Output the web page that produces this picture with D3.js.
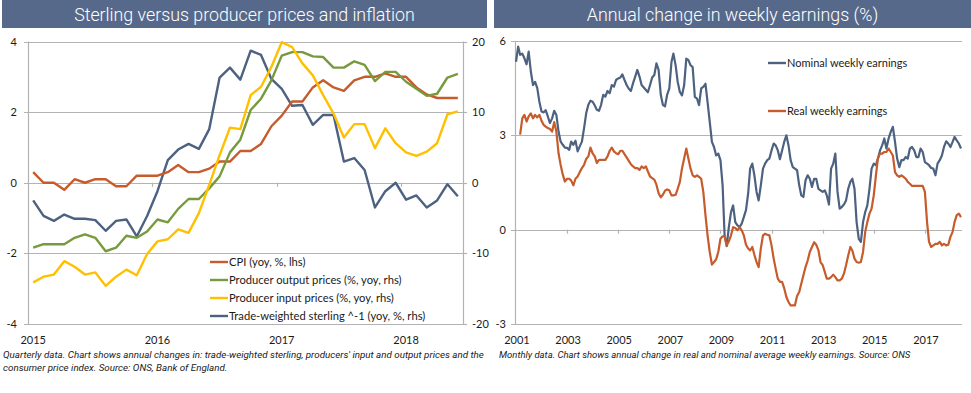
<!DOCTYPE html>
<html><head><meta charset="utf-8">
<script src="https://cdn.jsdelivr.net/npm/d3@7"></script>
<style>
html,body{margin:0;padding:0;background:#fff;}
svg{display:block;}
</style>
</head><body>
<script>
// ---------- LEFT CHART DATA (monthly, Jan 2015 – Jun 2018) ----------
const leftYearLabels = ["2015","2016","2017","2018"];
const leftTicksLhs = [-4,-2,0,2,4];
const leftTicksRhs = [-20,-10,0,10,20];
const cpi = [0.3,0,0,-0.2,0.1,0,0.1,0.1,-0.1,-0.1,0.2,0.2,
             0.2,0.3,0.5,0.3,0.3,0.4,0.6,0.6,0.9,0.9,1.1,1.6,
             1.9,2.3,2.3,2.7,2.9,2.7,2.6,2.9,3.0,3.0,3.1,3.0,
             3.0,2.7,2.5,2.4,2.4,2.4];
const ppiOutput = [-9.2,-8.7,-8.7,-8.7,-7.8,-7.3,-7.8,-9.7,-9.2,-7.5,-7.8,-6.9,
                   -5.2,-5.6,-3.7,-2.3,-2.3,-0.8,0.9,4.3,6.1,10.3,11.9,14.5,
                   18.0,18.5,18.5,17.9,17.8,16.3,16.3,17.2,16.7,14.4,15.7,15.7,
                   14.3,13.3,12.3,12.6,14.9,15.4];
const ppiInput = [-14.1,-13.3,-13.0,-11.1,-11.9,-13.0,-12.7,-14.6,-13.3,-12.3,-13.1,-10.1,
                  -8.3,-8.0,-6.6,-7.1,-4.3,-0.3,3.9,7.8,7.6,12.4,13.6,16.4,
                  19.9,19.2,16.9,15.2,12.4,9.8,6.4,8.3,8.3,4.9,7.7,5.6,
                  4.3,3.8,4.4,5.6,9.7,10.1];
const sterlingInv = [-2.5,-4.7,-5.4,-4.5,-5.1,-5.1,-5.3,-6.8,-5.4,-5.2,-7.6,-4.7,
                     -1.2,3.2,4.7,5.5,4.8,7.6,14.9,16.3,14.6,18.7,18.1,14.7,
                     13.3,10.9,11.0,8.2,9.6,9.6,3.0,3.5,1.8,-3.5,-1.2,0.0,
                     -2.4,-1.8,-3.5,-2.5,-0.2,-1.9];
const leftLegend = ["CPI (yoy, %, lhs)","Producer output prices (%, yoy, rhs)","Producer input prices (%, yoy, rhs)","Trade-weighted sterling ^-1 (yoy, %, rhs)"];

// ---------- RIGHT CHART DATA (monthly, Jan 2001 – Jun 2018) ----------
const rightYearLabels = ["2001","2003","2005","2007","2009","2011","2013","2015","2017"];
const rightTicks = [-3,0,3,6];
const nominalWeekly = [
 5.34,5.82,5.56,5.6,5.45,5.26,5.66,5.03,4.6,4.7,4.5,4.07,
 3.76,3.73,3.8,3.6,3.39,3.54,3.78,3.65,3.12,2.8,2.7,2.61,
 2.6,2.54,2.8,2.7,2.83,2.49,2.65,2.8,3.23,3.7,3.97,4.1,
 4.07,3.95,3.81,3.78,3.97,4.29,4.23,4.41,4.34,4.6,4.55,4.76,
 4.81,4.84,4.94,4.76,4.6,4.48,4.41,4.66,4.87,5.08,4.87,4.6,
 4.52,4.44,4.37,4.6,4.84,4.92,5.29,5.08,4.29,3.97,3.92,4.29,
 4.49,5.33,5.6,5.23,4.7,4.38,4.27,4.59,5.44,5.39,5.23,5.17,
 4.22,4.17,3.96,4.49,4.54,4.64,4.06,3.43,2.79,2.63,2.36,2.42,
 2.21,1.41,-0.18,-0.52,0.08,0.56,0.77,0.24,0.14,0.08,0.19,0.4,
 0.62,1.15,1.94,2.1,1.73,1.2,0.93,1.41,1.94,2.1,2.21,2.26,
 2.52,2.74,2.68,2.52,2.24,2.52,2.79,3.0,2.68,2.21,1.99,1.94,
 1.89,1.41,1.09,1.04,1.57,1.73,1.62,1.36,1.62,1.62,1.3,1.25,
 1.2,1.25,1.09,0.8,1.94,2.1,2.42,1.2,0.67,0.72,0.8,0.93,
 1.3,1.52,1.62,1.3,0.24,-0.29,-0.39,0.24,0.56,0.77,1.3,1.94,
 2.1,2.05,2.26,2.52,2.68,2.9,2.58,2.9,3.11,3.27,2.79,2.26,
 1.99,2.21,2.21,2.31,2.26,2.58,2.63,2.52,2.31,2.31,2.58,2.47,
 2.15,2.1,2.05,1.96,1.94,1.73,2.1,2.21,2.36,2.63,2.81,2.74,
 2.63,2.79,2.95,2.84,2.74,2.58];
const realWeekly = [
 null,null,3.02,3.54,3.65,3.44,3.6,3.7,3.54,3.65,3.57,3.65,
 3.46,3.33,3.28,3.23,3.2,3.12,3.42,3.12,2.43,2.06,1.75,1.53,
 1.62,1.62,1.56,1.41,1.62,1.69,1.83,1.96,2.06,2.25,2.33,2.61,
 2.43,2.33,2.12,2.22,2.22,2.22,2.22,2.33,2.51,2.61,2.49,2.43,
 2.4,2.51,2.51,2.4,2.3,2.19,2.08,2.01,1.96,1.96,1.9,2.01,
 1.96,2.01,1.85,1.69,1.64,1.59,1.43,1.16,1.03,1.11,1.24,1.28,
 1.25,1.09,1.09,1.11,1.3,1.52,1.94,2.26,2.58,2.26,1.94,1.73,
 1.68,1.73,1.68,1.62,1.2,0.46,-0.18,-0.71,-1.11,-1.03,-0.94,-0.71,
 -0.29,-0.21,-0.21,-0.5,-0.37,-0.18,0.08,0.05,-0.02,0.08,-0.02,-0.18,
 -0.48,-0.6,-0.66,-0.55,-0.8,-1.03,-1.19,-0.6,-0.18,-0.13,-0.16,-0.18,
 -0.5,-0.92,-1.24,-1.56,-1.66,-1.66,-1.86,-2.14,-2.3,-2.41,-2.41,-2.41,
 -2.11,-1.98,-1.72,-1.45,-1.19,-0.98,-0.71,-0.55,-0.4,-0.48,-0.65,-1.03,
 -1.13,-1.35,-1.56,-1.56,-1.51,-1.43,-1.51,-1.61,-1.61,-1.56,-1.4,-1.13,
 -0.82,-0.55,-0.66,-0.92,-1.03,-1.05,-1.03,-0.71,-0.07,0.24,0.51,0.67,
 1.09,1.73,2.26,2.42,2.42,2.47,2.47,2.58,2.47,2.36,1.83,1.73,
 1.68,1.73,1.68,1.62,1.52,1.46,1.39,1.39,1.39,1.39,1.39,1.39,
 1.2,0.24,-0.39,-0.55,-0.5,-0.45,-0.45,-0.39,-0.5,-0.45,-0.5,-0.48,
 -0.23,-0.07,0.24,0.46,0.51,0.4];
const rightLegend = ["Nominal weekly earnings","Real weekly earnings"];

const titles = ["Sterling versus producer prices and inflation","Annual change in weekly earnings (%)"];
const notes = [
 ["Quarterly data. Chart shows annual changes in: trade-weighted sterling, producers' input and output prices and the",
  "consumer price index. Source: ONS, Bank of England."],
 ["Monthly data. Chart shows annual change in real and nominal average weekly earnings. Source: ONS"]
];

// ---------- STYLES ----------
const C = {bar:"#57698a", cpi:"#c65b2c", green:"#779a3d", yellow:"#ffc000", blue:"#4d6180",
           grid:"#b3b3b3", text:"#1a1a1a"};
const FONT = "Lato, 'Open Sans', sans-serif";
const TFONT = "Roboto, 'Open Sans', sans-serif";

const W = 971, H = 393;
const svg = d3.select("body").append("svg").attr("width",W).attr("height",H);

// Title bars
[[2,485],[494,477]].forEach(([x,w],k)=>{
  svg.append("rect").attr("x",x).attr("y",0).attr("width",w).attr("height",28).attr("fill",C.bar);
  svg.append("text").attr("x",x+w/2).attr("y",20.5).attr("text-anchor","middle")
    .attr("fill","#fff").style("font-family",TFONT).style("font-weight",300).style("font-size","17.8px")
    .text(titles[k]);
});

// ================= LEFT CHART =================
(function(){
  const x0=28, x1=463, yT=41.5, yB=324;
  const n = cpi.length;
  const x = d3.scaleLinear().domain([-0.5, n-0.5]).range([x0,x1]);
  const yL = d3.scaleLinear().domain([-4,4]).range([yB,yT]);
  const yR = d3.scaleLinear().domain([-20,20]).range([yB,yT]);
  const g = svg.append("g");

  leftTicksLhs.forEach(v=>{
    g.append("line").attr("x1",x0-4).attr("x2",x1).attr("y1",Math.round(yL(v))+0.5).attr("y2",Math.round(yL(v))+0.5)
      .attr("stroke",C.grid).attr("stroke-width",1.2);
    g.append("line").attr("x1",x1).attr("x2",x1+4).attr("y1",Math.round(yL(v))+0.5).attr("y2",Math.round(yL(v))+0.5)
      .attr("stroke",C.grid).attr("stroke-width",1.2);
  });
  [x0,x1].forEach(xx=>g.append("line").attr("x1",xx+0.5).attr("x2",xx+0.5).attr("y1",yT).attr("y2",yB)
      .attr("stroke",C.grid).attr("stroke-width",1.2));
  [11.5,23.5,35.5].forEach(i=>{
    g.append("line").attr("x1",Math.round(x(i))+0.5).attr("x2",Math.round(x(i))+0.5)
      .attr("y1",yL(0)).attr("y2",yL(0)+4).attr("stroke",C.grid).attr("stroke-width",1.2);
  });
  leftTicksLhs.forEach(v=>{
    g.append("text").attr("x",17).attr("y",yL(v)+4).attr("text-anchor","end")
      .style("font-family",FONT).style("font-size","11px").attr("fill",C.text).text(v);
  });
  leftTicksRhs.forEach(v=>{
    g.append("text").attr("x",472).attr("y",yR(v)+4).attr("text-anchor","start")
      .style("font-family",FONT).style("font-size","11px").attr("fill",C.text).text(v);
  });
  leftYearLabels.forEach((t,k)=>{
    g.append("text").attr("x",x(k*12)).attr("y",344).attr("text-anchor","middle")
      .style("font-family",FONT).style("font-size","11px").attr("fill",C.text).text(t);
  });

  const lineL = d3.line().x((d,i)=>x(i)).y(d=>yL(d));
  const lineR = d3.line().x((d,i)=>x(i)).y(d=>yR(d));
  const series = [
    {d:cpi, f:lineL, c:C.cpi},
    {d:ppiOutput, f:lineR, c:C.green},
    {d:ppiInput, f:lineR, c:C.yellow},
    {d:sterlingInv, f:lineR, c:C.blue}
  ];
  [3,0,1,2].forEach(k=>{
    const s=series[k];
    g.append("path").attr("d",s.f(s.d)).attr("fill","none").attr("stroke",s.c)
      .attr("stroke-width",2.4).attr("stroke-linejoin","round");
  });
  const legY=[262,280,298,316];
  series.forEach((s,k)=>{
    g.append("line").attr("x1",210).attr("x2",228).attr("y1",legY[k]).attr("y2",legY[k])
      .attr("stroke",s.c).attr("stroke-width",2.4);
    g.append("text").attr("x",229).attr("y",legY[k]+4).style("font-family",FONT).style("font-size","11.2px")
      .attr("fill",C.text).text(leftLegend[k]);
  });
})();

// ================= RIGHT CHART =================
(function(){
  const x0=515, x1=962, yT=41, yB=324;
  const month = i => new Date(2001, i, 1);
  const x = d3.scaleTime().domain([new Date(2001,0,1), new Date(2018,5,1)]).range([516,961]);
  const y = d3.scaleLinear().domain([-3,6]).range([yB,yT]);
  const g = svg.append("g");

  rightTicks.forEach(v=>{
    g.append("line").attr("x1",x0-4).attr("x2",x1).attr("y1",Math.round(y(v))+0.5).attr("y2",Math.round(y(v))+0.5)
      .attr("stroke",C.grid).attr("stroke-width",1.2);
    g.append("text").attr("x",506).attr("y",y(v)+4).attr("text-anchor","end")
      .style("font-family",FONT).style("font-size","11px").attr("fill",C.text).text(v);
  });
  g.append("line").attr("x1",x0+0.5).attr("x2",x0+0.5).attr("y1",yT).attr("y2",yB)
      .attr("stroke",C.grid).attr("stroke-width",1.2);
  rightYearLabels.forEach((t,k)=>{
    const d = new Date(+t,0,1);
    if(k>0) g.append("line").attr("x1",Math.round(x(d))+0.5).attr("x2",Math.round(x(d))+0.5)
      .attr("y1",y(0)).attr("y2",y(0)+4).attr("stroke",C.grid).attr("stroke-width",1.2);
    g.append("text").attr("x",x(d)+1).attr("y",344).attr("text-anchor","middle")
      .style("font-family",FONT).style("font-size","11px").attr("fill",C.text).text(t);
  });

  const line = d3.line().defined(d=>d!=null).x((d,i)=>x(month(i))).y(d=>y(d));
  g.append("path").attr("d",line(nominalWeekly)).attr("fill","none").attr("stroke",C.blue)
    .attr("stroke-width",2.2).attr("stroke-linejoin","round");
  g.append("path").attr("d",line(realWeekly)).attr("fill","none").attr("stroke",C.cpi)
    .attr("stroke-width",2.2).attr("stroke-linejoin","round");

  [[63,C.blue],[111,C.cpi]].forEach(([yy,c],k)=>{
    g.append("line").attr("x1",768).attr("x2",786).attr("y1",yy).attr("y2",yy).attr("stroke",c).attr("stroke-width",2.4);
    g.append("text").attr("x",787).attr("y",yy+4).style("font-family",FONT).style("font-size","11px")
      .attr("fill",C.text).text(rightLegend[k]);
  });
})();

// notes
notes[0].forEach((t,k)=>{
  svg.append("text").attr("x",3).attr("y",358+k*13).style("font-family",TFONT).style("font-style","italic")
    .style("font-size","9.8px").attr("fill",C.text).text(t);
});
notes[1].forEach((t,k)=>{
  svg.append("text").attr("x",499).attr("y",358+k*13).style("font-family",TFONT).style("font-style","italic")
    .style("font-size","9.5px").attr("fill",C.text).text(t);
});
</script>
</body></html>
